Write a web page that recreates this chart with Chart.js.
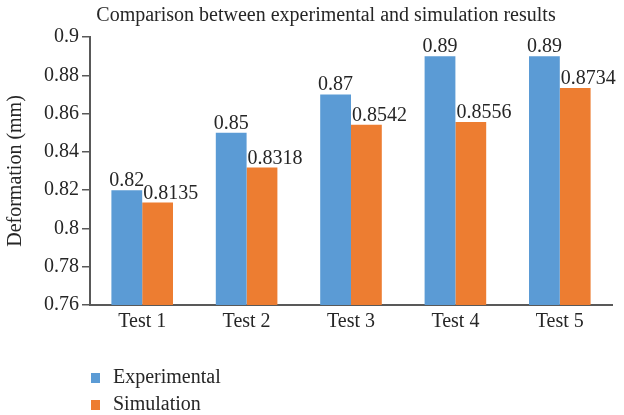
<!DOCTYPE html>
<html>
<head>
<meta charset="utf-8">
<script src="https://cdn.jsdelivr.net/npm/chart.js@4.4.0/dist/chart.umd.min.js"></script>
<style>
  html, body { margin: 0; padding: 0; background: #fff; }
  #wrap { width: 624px; height: 415px; }
</style>
</head>
<body>
<div id="wrap"><canvas id="chart"></canvas></div>
<script>
// dati
var categories = ['Test 1', 'Test 2', 'Test 3', 'Test 4', 'Test 5'];
var experimental = [0.82, 0.85, 0.87, 0.89, 0.89];
var simulation = [0.8135, 0.8318, 0.8542, 0.8556, 0.8734];
var seriesNames = ['Experimental', 'Simulation'];
var titleText = 'Comparison between experimental and simulation results';

var FONT = '"Liberation Serif", "DejaVu Serif", serif';
var SIZE = 20;
var TEXT = '#262626';
var AXIS = '#595959';

// etichette sopra le barre, titolo e legenda disegnati a mano
var extras = {
  id: 'extras',
  afterDatasetsDraw: function (chart) {
    var ctx = chart.ctx;
    ctx.save();
    ctx.font = SIZE + 'px ' + FONT;
    ctx.fillStyle = TEXT;
    ctx.textBaseline = 'alphabetic';
    chart.data.datasets.forEach(function (ds, di) {
      var meta = chart.getDatasetMeta(di);
      meta.data.forEach(function (bar, i) {
        var txt = String(ds.data[i]);
        if (di === 0) {
          ctx.textAlign = 'center';
          ctx.fillText(txt, bar.x, bar.y - 4);
        } else {
          ctx.textAlign = 'left';
          ctx.fillText(txt, bar.x - bar.width / 2 + 1, bar.y - 4);
        }
      });
    });

    // titolo
    ctx.textAlign = 'center';
    ctx.fillText(titleText, 326, 21);

    // legenda verticale
    ctx.textAlign = 'left';
    ctx.textBaseline = 'middle';
    chart.data.datasets.forEach(function (ds, di) {
      var y = 378 + di * 27;
      ctx.fillStyle = ds.backgroundColor;
      ctx.fillRect(91, y - 5, 9, 10);
      ctx.fillStyle = TEXT;
      ctx.fillText(seriesNames[di], 113, y);
    });
    ctx.restore();
  }
};

new Chart(document.getElementById('chart'), {
  type: 'bar',
  data: {
    labels: categories,
    datasets: [
      { label: seriesNames[0], data: experimental, backgroundColor: '#5B9BD5' },
      { label: seriesNames[1], data: simulation, backgroundColor: '#ED7D31' }
    ]
  },
  options: {
    responsive: true,
    maintainAspectRatio: false,
    animation: false,
    layout: { padding: { left: 4, right: 12, top: 37, bottom: 80 } },
    datasets: { bar: { categoryPercentage: 0.59, barPercentage: 1.0 } },
    plugins: {
      legend: { display: false },
      title: { display: false },
      tooltip: { enabled: false }
    },
    scales: {
      x: {
        grid: { display: false, drawTicks: false },
        border: { display: true, color: AXIS, width: 2 },
        ticks: { color: TEXT, font: { family: FONT, size: SIZE }, padding: 5 },
        afterFit: function (s) { s.height = 30; }
      },
      y: {
        min: 0.76,
        max: 0.9,
        grid: { display: true, drawOnChartArea: false, drawTicks: true, tickLength: 8, color: AXIS, lineWidth: 1.5 },
        border: { display: true, color: AXIS, width: 2 },
        ticks: {
          stepSize: 0.02,
          color: TEXT,
          font: { family: FONT, size: SIZE },
          padding: 3,
          callback: function (v) { return String(Math.round(v * 100) / 100); }
        },
        title: { display: true, text: 'Deformation (mm)', color: TEXT, font: { family: FONT, size: SIZE }, padding: 0 },
        afterFit: function (s) { s.width = 86; }
      }
    }
  },
  plugins: [extras]
});
</script>
</body>
</html>
